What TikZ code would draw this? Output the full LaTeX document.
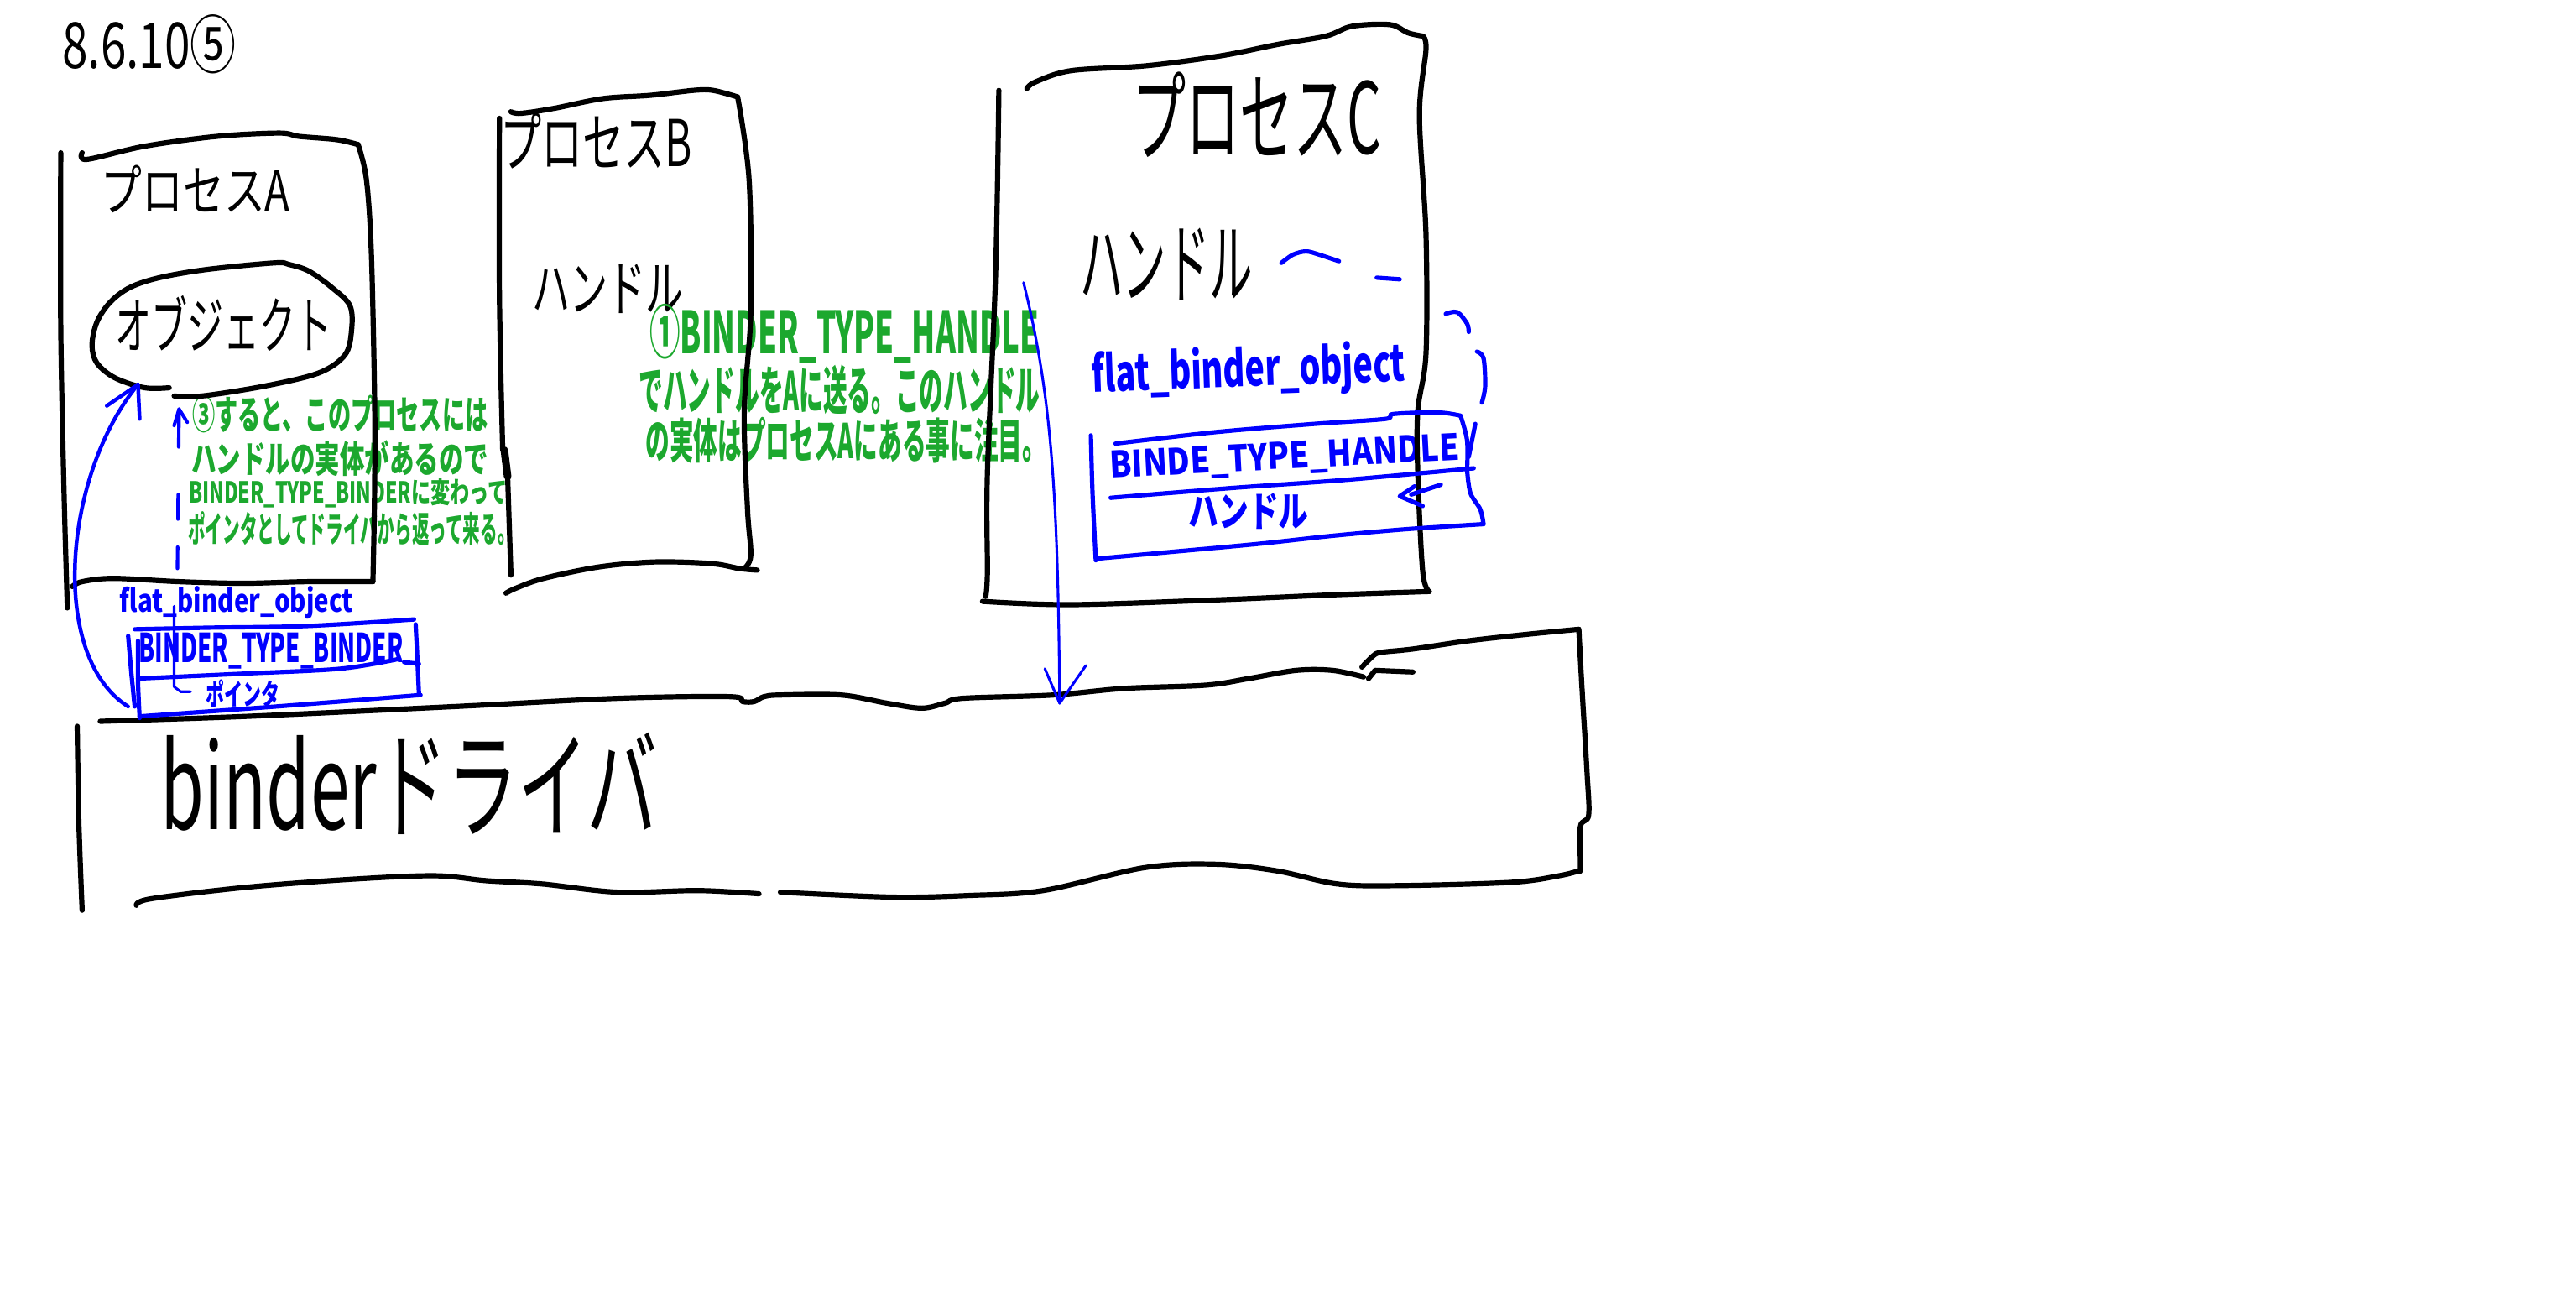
\documentclass[tikz,border=0pt]{standalone}
\usepackage{fontspec}
\setmainfont{Noto Sans CJK JP}
\usepackage{graphicx}
\newlength\pxu
\setlength\pxu{0.02cm}
\newcommand\fitto[3]{\resizebox*{#1\pxu}{#2\pxu}{#3}}
\definecolor{inkblue}{RGB}{0,0,255}
\definecolor{inkgreen}{RGB}{28,168,46}
\tikzset{
  blk/.style={draw=black,line width=1.8pt,line cap=round,line join=round},
  blu/.style={draw=inkblue,line width=1.5pt,line cap=round,line join=round},
  bluthin/.style={draw=inkblue,line width=0.9pt,line cap=round,line join=round},
  txt/.style={inner sep=0pt,outer sep=0pt,anchor=center},
  gtxt/.style={txt,text=inkgreen,font=\bfseries},
  btxt/.style={txt,text=inkblue,font=\bfseries},
  hand/.style={smooth,tension=0.55},
}
\begin{document}
\begin{tikzpicture}[x=0.02cm,y=-0.02cm]
\fill[white] (0,0) rectangle (1568,784.5);
\useasboundingbox (0,0) rectangle (1568,784.5);

% ---------- texts ----------
\node[txt] (date) at (91,27) {\fitto{106}{36}{8.6.10⑤}};
\node[txt] (procA) at (119,115) {\fitto{115}{29}{プロセスA}};
\node[txt] (obj) at (136,197) {\fitto{132}{34}{オブジェクト}};
\node[txt] (procB) at (363,86) {\fitto{117}{34}{プロセスB}};
\node[txt] (handB) at (370,176) {\fitto{92}{30}{ハンドル}};
\node[txt] (procC) at (765,70) {\fitto{152}{52}{プロセスC}};
\node[txt] (handC) at (710,161) {\fitto{105}{44}{ハンドル}};
\node[txt] (drvlbl) at (249,477) {\fitto{302}{62}{binderドライバ}};

\node[gtxt] (g1a) at (514,203) {\fitto{237}{36}{①BINDER\_TYPE\_HANDLE}};
\node[gtxt] (g1b) at (511,237) {\fitto{244}{30}{でハンドルをAに送る。このハンドル}};
\node[gtxt] (g1c) at (515,268) {\fitto{244}{28}{の実体はプロセスAにある事に注目。}};
\node[gtxt] (g3a) at (207,252) {\fitto{180}{23}{③すると、このプロセスには}};
\node[gtxt] (g3b) at (207,279) {\fitto{181}{22}{ハンドルの実体があるので}};
\node[gtxt] (g3c) at (212,300) {\fitto{194}{18}{BINDER\_TYPE\_BINDERに変わって}};
\node[gtxt] (g3d) at (214,322) {\fitto{199}{21}{ポインタとしてドライバから返って来る。}};

\node[btxt] (flatA) at (144,367) {\fitto{142}{20}{flat\_binder\_object}};
\node[btxt] (bttB) at (165,396) {\fitto{161}{22}{BINDER\_TYPE\_BINDER}};
\node[btxt] (ptrA) at (148,422) {\fitto{45}{17}{ポインタ}};
\node[btxt,rotate=2] (flatC) at (760,226) {\fitto{191}{32}{flat\_binder\_object}};
\node[btxt,rotate=3] (bttH) at (782,279) {\fitto{213}{20}{BINDE\_TYPE\_HANDLE}};
\node[btxt] (handC2) at (760,311) {\fitto{73}{22}{ハンドル}};

% ---------- process A ----------
\draw[blk] plot[hand] coordinates {(37,93) (37,200) (39,300) (41,370)};
\draw[blk] plot[hand] coordinates {(50,93) (53,97) (88,89) (132,83) (170,81) (182,83) (205,85) (218,88)};
\draw[blk] plot[hand] coordinates {(218,88) (223,109) (226,153) (228,242) (228,300) (227,354)};
\draw[blk] plot[hand] coordinates {(44,357) (50,354) (69,352) (109,354) (148,355) (187,354) (227,354)};
% object outline
\draw[blk] plot[hand] coordinates {(103,236) (88,236) (70,230) (59,221) (56,210) (59,196) (67,184) (79,175) (97,169) (126,164) (167,160) (176,161) (188,165) (202,175) (213,186) (214,201) (210,216) (194,227) (161,235) (123,241) (106,241)};

% ---------- process B ----------
\draw[blk] plot[hand] coordinates {(304,72) (304,180) (306,274)};
\draw[blk,line width=2.6pt] (307,274) -- (309,290);
\draw[blk] plot[hand] coordinates {(309,290) (310,320) (311,350)};
\draw[blk] plot[hand] coordinates {(311,68) (317,69) (337,66) (367,60) (396,58) (422,55) (434,55) (449,59)};
\draw[blk] plot[hand] coordinates {(449,59) (456,110) (457,190) (453,250) (455,310) (457,338) (453,346)};
\draw[blk] plot[hand] coordinates {(308,361) (314,358) (331,352) (365,345) (399,342) (433,343) (450,346) (461,347)};

% ---------- process C ----------
\draw[blk] plot[hand] coordinates {(625,54) (630,50) (652,43) (698,40) (743,34) (778,27) (807,22) (823,16) (846,15) (857,20) (866,22)};
\draw[blk] plot[hand] coordinates {(866,22) (868,30) (864,70) (868,143) (868,215) (863,250) (863,288) (866,348) (870,360)};
\draw[blk] plot[hand] coordinates {(598,366) (652,368) (743,365) (812,362) (870,360)};
\draw[blk] plot[hand] coordinates {(608,55) (606,167) (601,288) (601,348) (600,363)};

% ---------- binder driver ----------
\draw[blk] plot[hand] coordinates {(61,439) (150,436) (277,430) (376,425) (444,424) (452,427) (459,427) (465,424) (475,423) (512,423) (540,428) (561,431) (575,428) (586,425) (641,423) (684,419) (734,417) (760,413) (789,408) (811,408) (830,412)};
\draw[blk] (833,413) -- (837,408) -- (860,409);
\draw[blk] plot[hand] coordinates {(829,406) (836,399) (841,397) (860,395) (894,390) (930,386) (961,383)};
\draw[blk] plot[hand] coordinates {(961,383) (963,420) (966,470) (967,496) (962,503) (962,528) (961,530)};
\draw[blk] plot[hand] coordinates {(961,530) (949,533) (920,537) (851,539) (814,538) (777,530) (740,526) (697,528) (635,542) (590,545) (543,546) (475,543)};
\draw[blk] plot[hand] coordinates {(462,544) (425,542) (376,543) (330,538) (296,536) (265,533) (216,535) (150,540) (92,547) (83,551)};
\draw[blk] plot[hand] coordinates {(47,442) (48,500) (50,554)};

% ---------- blue box in A ----------
\draw[blu] plot[hand] coordinates {(82,383) (128,382) (187,381) (252,377)};
\draw[blu] plot[hand] coordinates {(253,380) (254,400) (255,422)};
\draw[blu] plot[hand] coordinates {(85,436) (168,430) (256,423)};
\draw[blu] plot[hand] coordinates {(78,387) (80,410) (82,430)};
\draw[blu] plot[hand] coordinates {(84,390) (84,415) (85,437)};
\draw[blu] plot[hand] coordinates {(84,413) (148,410) (207,407) (243,401)};
\draw[blu] (246,403) -- (255,404);

% ---------- blue box in C ----------
\draw[blu] plot[hand] coordinates {(664,265) (665,300) (667,341)};
\draw[blu] plot[hand] coordinates {(668,340) (712,336) (766,331) (812,326) (857,322) (903,319)};
\draw[blu] plot[hand] coordinates {(679,270) (740,263) (800,258) (843,255) (848,252) (875,251) (889,253)};
\draw[blu] plot[hand] coordinates {(889,253) (893,268) (893,286)};
\draw[blu] plot[hand] coordinates {(676,303) (750,297) (820,292) (897,285)};
\draw[blu] plot[hand] coordinates {(893,286) (895,300) (901,310) (903,319)};
% loose strokes from the handle to the box
\draw[blu] plot[hand] coordinates {(780,160) (787,155) (795,153) (803,155) (815,159)};
\draw[blu] (838,169) -- (852,170);
\draw[blu] plot[hand] coordinates {(880,191) (887,190) (893,197) (894,202)};
\draw[blu] plot[hand] coordinates {(899,214) (903,218) (904,235) (902,245)};
\draw[blu] (898,258) -- (894,278);
\coordinate (ah) at (852,302);
\draw[blu] (861,296) -- (ah) -- (866,308);
\draw[blu] (859,301) -- (877,295);

% ---------- connectors ----------
\coordinate (hs) at (623,172);
\coordinate (he) at (645,428);
\draw[bluthin] (hs) .. controls (640,240) and (644,300) .. (he);
\draw[bluthin] (636,407) -- (he) -- (661,405);

\coordinate (ls) at (78,430);
\coordinate (le) at (84,234);
\draw[blu,line width=1.3pt] (ls) .. controls (30,400) and (38,290) .. (le);
\draw[blu,line width=1.3pt] (65,247) -- (le) -- (85,255);

\coordinate (ds) at (108,346);
\coordinate (de) at (109,249);
\draw[blu,line width=1.2pt,dash pattern=on 7.4pt off 9.7pt on 8.5pt off 16.5pt on 13.1pt] (ds) -- (de);
\draw[blu,line width=1.2pt] (106,259) -- (de) -- (114,257);

\coordinate (ts) at (106,369);
\coordinate (te) at (116,421);
\draw[bluthin] (ts) -- (106,418) -- (110,421) -- (te);
\end{tikzpicture}
\end{document}
